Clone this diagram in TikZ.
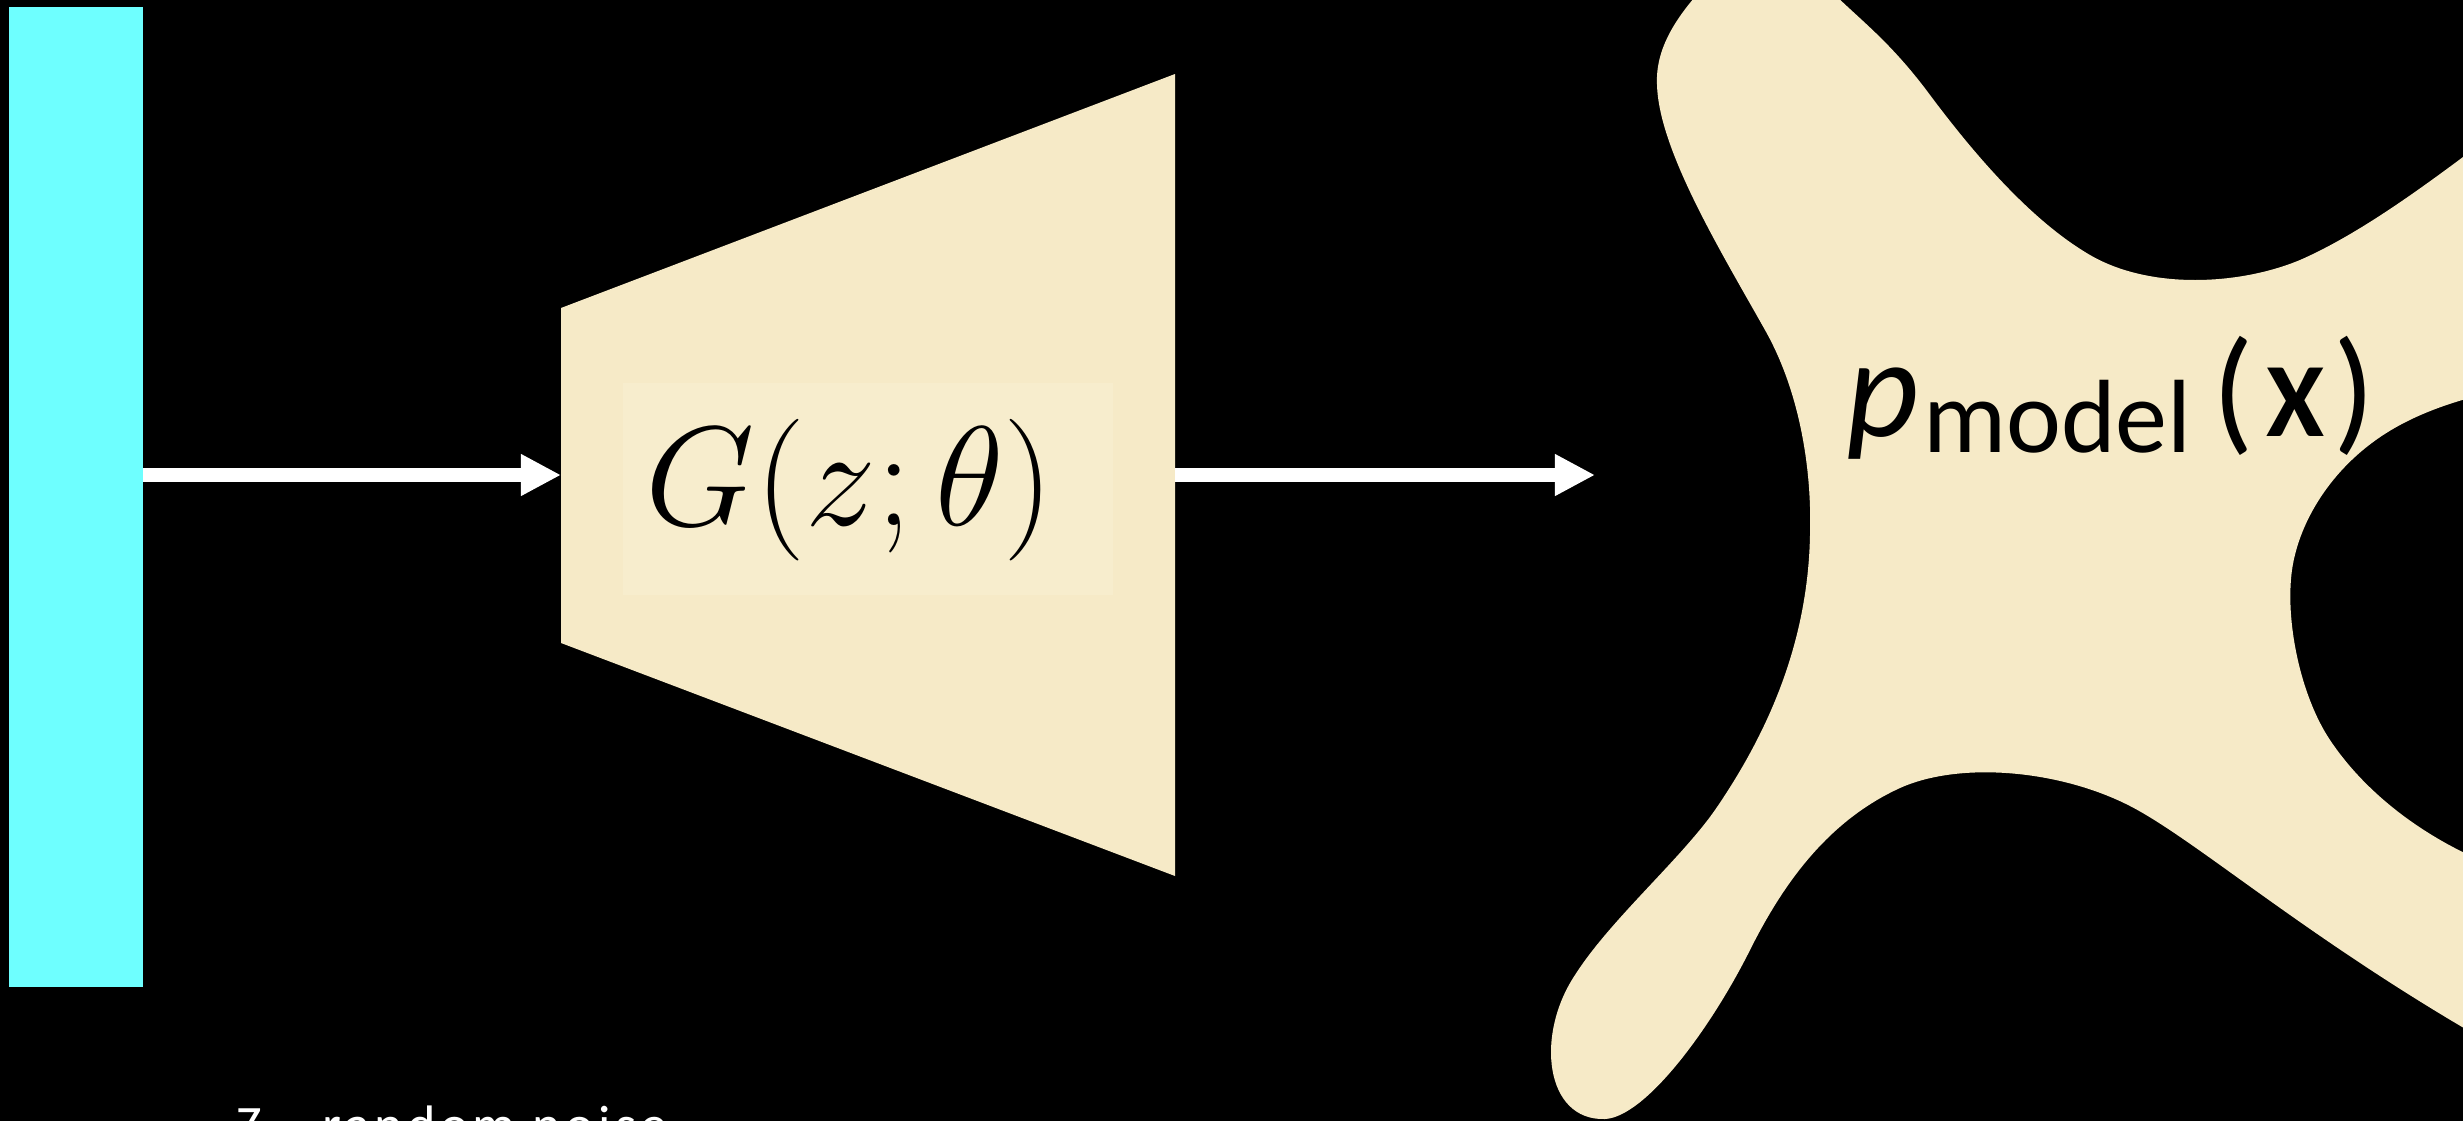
\documentclass[tikz,border=0pt]{standalone}
\usepackage{fontspec}
\newfontfamily\carl{Carlito}
\newfontfamily\carlsp[LetterSpace=8]{Carlito}
\usetikzlibrary{arrows.meta}
\definecolor{zcyan}{HTML}{6EFFFF}
\definecolor{beige}{RGB}{246,234,199}
\definecolor{beigein}{RGB}{247,237,205}
\tikzset{
  arr/.style={draw=white, line width=3.98pt, -{Triangle[length=0.4cm, width=0.39cm]}},
  blobfill/.style={fill=beige},
}
\begin{document}
\begin{tikzpicture}[x=0.01cm, y=-0.01cm]
\useasboundingbox (0,0) rectangle (2463,1121);
\clip (0,0) rectangle (2463,1121);
\fill[black] (0,0) rectangle (2463,1121);

% noise vector
\node[fill=zcyan, draw=none, inner sep=0, minimum width=1.34cm, minimum height=9.8cm, anchor=north west] (noise) at (8,6) {};

% generator trapezoid
\fill[beige] (561,308) -- (1175,74) -- (1175,876) -- (561,643) -- cycle;
\fill[beigein] (623,383) rectangle (1113,595);
\node[anchor=base, inner sep=0, font=\Huge, scale=1.62] (glabel) at (850,525) {$G(z;\theta)$};
\coordinate (gin) at (561,475);
\coordinate (gout) at (1175,475);

% distribution blob
\fill[blobfill] (1720,-30)
  .. controls (1680,10) and (1655,45) .. (1657,85)
  .. controls (1659,150) and (1720,250) .. (1765,330)
  .. controls (1800,392) and (1812,470) .. (1810,535)
  .. controls (1808,640) and (1770,730) .. (1715,810)
  .. controls (1680,860) and (1610,920) .. (1575,975)
  .. controls (1535,1035) and (1545,1121) .. (1605,1119)
  .. controls (1645,1117) and (1710,1030) .. (1750,950)
  .. controls (1785,880) and (1830,820) .. (1900,788)
  .. controls (1960,761) and (2060,770) .. (2130,806)
  .. controls (2200,842) and (2320,950) .. (2520,1060)
  -- (2520,875)
  .. controls (2440,850) and (2370,800) .. (2330,740)
  .. controls (2300,695) and (2285,620) .. (2292,570)
  .. controls (2299,520) and (2335,460) .. (2400,425)
  .. controls (2440,403.5) and (2480,395) .. (2520,385)
  -- (2520,115)
  .. controls (2470,150) and (2380,225) .. (2300,260)
  .. controls (2240,285) and (2150,290) .. (2090,255)
  .. controls (2035,223) and (1980,162) .. (1930,95)
  .. controls (1890,41) and (1860,20) .. (1830,-10)
  -- (1800,-40) -- cycle;
\coordinate (blobin) at (1595,475);

\node[anchor=base west, inner sep=0, text=black] (pmodel) at (1846,436) {\carl\fontsize{40.3}{40}\selectfont\itshape p\upshape\kern1pt\fontsize{29.6}{30}\selectfont\raisebox{-4.55pt}{model}\kern6pt\fontsize{39}{39}\selectfont(\kern3.5pt\fontsize{30}{30}\selectfont\bfseries X\mdseries\kern2.5pt\fontsize{39}{39}\selectfont)};

% arrows
\draw[arr] (noise.east |- gin) -- (gin);
\draw[arr] (gout) -- (blobin);

% caption
\node[anchor=base west, inner sep=0, text=white, font=\carlsp\fontsize{15.4}{18}\selectfont] (noiselabel) at (236,1143) {Z – random noise};
\end{tikzpicture}
\end{document}
